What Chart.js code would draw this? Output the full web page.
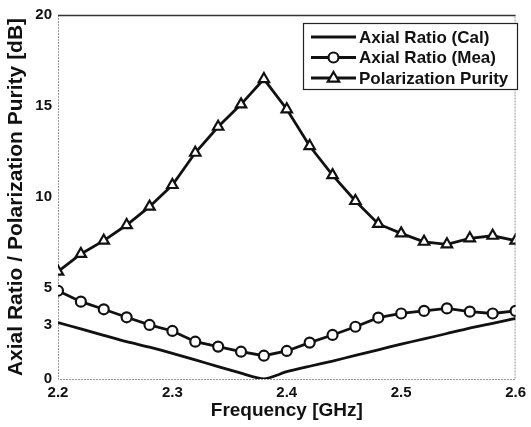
<!DOCTYPE html>
<html>
<head>
<meta charset="utf-8">
<script src="https://cdn.jsdelivr.net/npm/chart.js@4/dist/chart.umd.min.js"></script>
<style>
  html, body { margin: 0; padding: 0; background: #fff; }
  #wrap { width: 531px; height: 427px; }
</style>
</head>
<body>
<div id="wrap"><canvas id="c" width="531" height="427"></canvas></div>
<script>
// ---- data ----
const freqGHz = [2.20, 2.22, 2.24, 2.26, 2.28, 2.30, 2.32, 2.34, 2.36, 2.38, 2.40,
                 2.42, 2.44, 2.46, 2.48, 2.50, 2.52, 2.54, 2.56, 2.58, 2.60];
const axialRatioCal = [3.10, 2.75, 2.40, 2.05, 1.75, 1.41, 1.05, 0.68, 0.32, 0.00, 0.40,
                       0.70, 0.98, 1.30, 1.60, 1.92, 2.20, 2.50, 2.80, 3.05, 3.33];
const axialRatioMea = [4.85, 4.25, 3.83, 3.39, 2.97, 2.64, 2.05, 1.78, 1.50, 1.28, 1.54,
                       2.00, 2.42, 2.87, 3.37, 3.60, 3.74, 3.88, 3.70, 3.60, 3.74];
const polarizationPurity = [5.90, 6.87, 7.60, 8.46, 9.47, 10.66, 12.43, 13.86, 15.09, 16.48, 14.82,
                            12.80, 11.20, 9.78, 8.52, 8.00, 7.54, 7.40, 7.73, 7.87, 7.60];
const seriesLabels = ['Axial Ratio (Cal)', 'Axial Ratio (Mea)', 'Polarization Purity'];
const yTickValues = [0, 3, 5, 10, 15, 20];
const xTickValues = [2.2, 2.3, 2.4, 2.5, 2.6];
const xTitle = 'Frequency [GHz]';
const yTitle = 'Axial Ratio / Polarization Purity [dB]';

const toXY = arr => arr.map((v, i) => ({ x: freqGHz[i], y: v }));
const FONT = "'Liberation Sans', Arial, sans-serif";
const INK = '#111';

const framePlugin = {
  id: 'frame',
  beforeDatasetsDraw(chart) {
    const { ctx, chartArea: a } = chart;
    ctx.save();
    ctx.strokeStyle = '#9a9a9a';
    ctx.lineWidth = 1;
    ctx.setLineDash([2, 1]);
    ctx.beginPath();
    ctx.moveTo(a.left + 0.5, a.top); ctx.lineTo(a.left + 0.5, a.bottom + 0.5);
    ctx.lineTo(a.right - 0.5, a.bottom + 0.5); ctx.lineTo(a.right - 0.5, a.top);
    ctx.stroke();
    ctx.setLineDash([]);
    ctx.strokeStyle = '#333';
    ctx.lineWidth = 1.5;
    ctx.beginPath();
    ctx.moveTo(a.left, a.top + 0.5); ctx.lineTo(a.right, a.top + 0.5);
    ctx.stroke();
    ctx.restore();
  }
};

const legendPlugin = {
  id: 'boxLegend',
  afterDraw(chart) {
    const { ctx } = chart;
    const left = 303, top = 23, w = 214, h = 66;
    ctx.save();
    ctx.fillStyle = '#fff';
    ctx.fillRect(left, top, w, h);
    ctx.strokeStyle = '#222';
    ctx.lineWidth = 1.2;
    ctx.strokeRect(left + 0.5, top + 0.5, w, h);
    ctx.font = 'bold 17px ' + FONT;
    ctx.textBaseline = 'middle';
    ctx.textAlign = 'left';
    chart.data.datasets.forEach((ds, i) => {
      const y = top + 14 + i * 20.5;
      const x0 = 311, x1 = 356;
      ctx.strokeStyle = INK;
      ctx.lineWidth = 2.8;
      ctx.beginPath(); ctx.moveTo(x0, y); ctx.lineTo(x1, y); ctx.stroke();
      if (ds.pointStyle && ds.pointRadius > 0) {
        const cx = (x0 + x1) / 2;
        ctx.fillStyle = '#fff';
        ctx.lineWidth = 2.2;
        ctx.beginPath();
        if (ds.pointStyle === 'circle') {
          ctx.arc(cx, y, ds.pointRadius, 0, Math.PI * 2);
        } else {
          const r = ds.pointRadius;
          ctx.moveTo(cx, y - r);
          ctx.lineTo(cx + r * 0.95, y + r * 0.6);
          ctx.lineTo(cx - r * 0.95, y + r * 0.6);
          ctx.closePath();
        }
        ctx.fill(); ctx.stroke();
      }
      ctx.fillStyle = INK;
      ctx.fillText(ds.label, 359, y + 1);
    });
    ctx.restore();
  }
};

new Chart(document.getElementById('c'), {
  type: 'line',
  data: {
    datasets: [
      { label: seriesLabels[0], data: toXY(axialRatioCal), borderColor: INK, borderWidth: 2.8,
        pointRadius: 0, pointStyle: false, tension: 0.2 },
      { label: seriesLabels[1], data: toXY(axialRatioMea), borderColor: INK, borderWidth: 2.8,
        pointStyle: 'circle', pointRadius: 5, pointBorderWidth: 2.2,
        pointBackgroundColor: '#fff', pointBorderColor: INK, tension: 0 },
      { label: seriesLabels[2], data: toXY(polarizationPurity), borderColor: INK, borderWidth: 2.8,
        pointStyle: 'triangle', pointRadius: 6, pointBorderWidth: 2.2,
        pointBackgroundColor: '#fff', pointBorderColor: INK, tension: 0 }
    ]
  },
  options: {
    responsive: false,
    animation: false,
    layout: { padding: { top: 15, right: 12, left: 0, bottom: 0 } },
    plugins: { legend: { display: false }, tooltip: { enabled: false } },
    scales: {
      x: {
        type: 'linear', min: 2.2, max: 2.6,
        afterBuildTicks: s => { s.ticks = xTickValues.map(v => ({ value: v })); },
        afterFit: s => { s.height = 48; },
        grid: { display: false, drawTicks: false },
        border: { display: false },
        ticks: { padding: 5, color: INK, font: { family: FONT, size: 15, weight: 'bold' },
                 callback: v => v.toFixed(1), maxRotation: 0 },
        title: { display: true, text: xTitle, color: INK,
                 font: { family: FONT, size: 19, weight: 'bold' }, padding: { top: 0, bottom: 5 } }
      },
      y: {
        min: 0, max: 20,
        afterBuildTicks: s => { s.ticks = yTickValues.map(v => ({ value: v })); },
        afterFit: s => { s.width = 58; },
        grid: { display: false, drawTicks: false },
        border: { display: false },
        ticks: { padding: 6, color: INK, font: { family: FONT, size: 15, weight: 'bold' } },
        title: { display: true, text: yTitle, color: INK,
                 font: { family: FONT, size: 21, weight: 'bold' }, padding: { top: 4, bottom: 0 } }
      }
    }
  },
  plugins: [framePlugin, legendPlugin]
});
</script>
</body>
</html>
